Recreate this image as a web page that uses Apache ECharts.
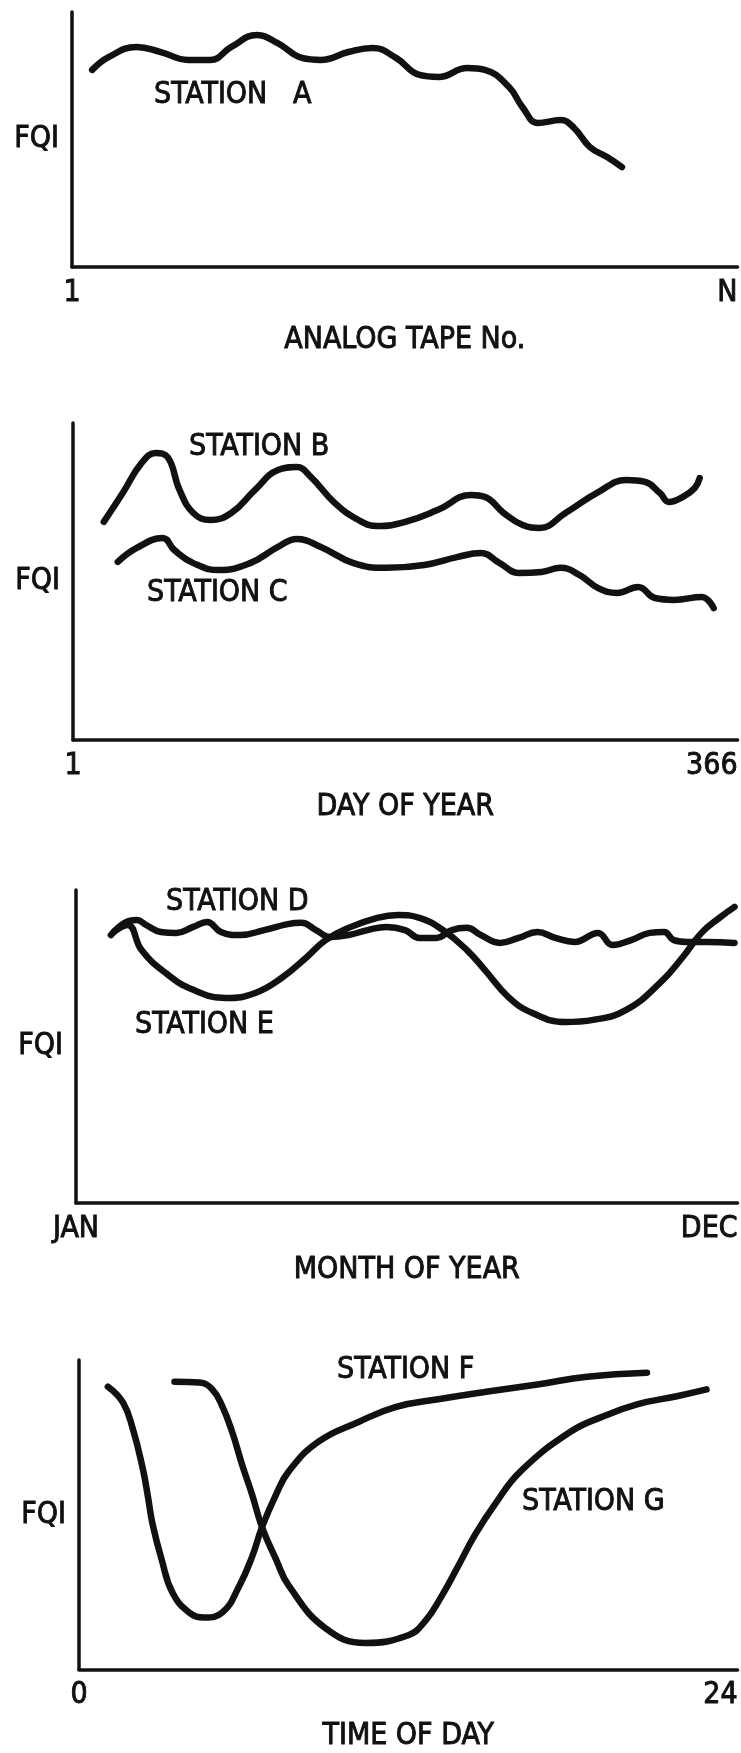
<!DOCTYPE html>
<html>
<head>
<meta charset="utf-8">
<script src="https://cdn.jsdelivr.net/npm/echarts@6/dist/echarts.min.js"></script>
<style>
  html, body { margin: 0; background: #fff; }
  #chart { width: 741px; height: 1753px; }
</style>
</head>
<body>
<div id="chart"></div>
<script>
// ---- data (FQI is unitless, 0..100 of the plot height)
// panel 1: tape number runs 1..N (N drawn at 100)
const tapeNo = [4.0, 6.5, 10.6, 14.2, 18.3, 21.6, 24.7, 28.5, 31.6, 35.2, 38.0, 42.1, 45.7, 49.2, 52.7, 55.5, 59.8, 62.4, 66.0, 68.0, 70.3, 73.7, 75.7, 78.0, 80.6, 82.8];
const stationA = [77.3, 82.4, 86.3, 84.3, 81.2, 81.2, 86.3, 91.0, 87.8, 82.0, 81.2, 84.3, 85.9, 82.0, 75.3, 74.5, 78.0, 77.3, 70.6, 62.7, 56.5, 57.6, 54.5, 47.1, 43.1, 39.2];

// panel 2: day of year 1..366
const dayB = [17.9, 28.3, 38.7, 46.4, 52.9, 59.5, 67.1, 76.4, 87.9, 101.0, 113.6, 123.9, 131.6, 144.7, 157.8, 168.2, 183.5, 201.5, 219.6, 227.2, 237.6, 248.0, 257.3, 271.5, 289.5, 304.8, 315.2, 323.4, 328.3, 336.0, 342.5, 345.2];
const stationB = [68.8, 77.9, 87.4, 90.5, 89.3, 78.9, 71.6, 69.4, 71.6, 78.9, 85.2, 86.1, 83.0, 74.8, 69.4, 67.5, 68.8, 72.6, 77.3, 76.7, 71.6, 67.8, 66.9, 71.6, 78.2, 82.0, 81.4, 77.9, 75.1, 76.7, 79.5, 82.6];
const dayC = [25.6, 36.0, 50.2, 56.7, 67.1, 81.3, 98.3, 113.6, 123.9, 137.1, 155.1, 173.1, 193.9, 211.9, 225.0, 235.4, 245.8, 258.4, 268.7, 279.1, 289.5, 299.9, 311.4, 320.6, 331.0, 346.3, 352.9];
const stationC = [56.2, 60.6, 63.7, 59.9, 55.8, 53.6, 55.8, 60.9, 63.4, 60.9, 55.8, 54.3, 55.2, 57.7, 59.0, 55.8, 52.7, 53.0, 54.3, 52.1, 47.9, 46.4, 48.3, 44.8, 44.2, 45.1, 41.6];

// panel 3: month 1 (JAN) .. 12 (DEC)
const monthD = [1.58, 1.81, 2.01, 2.17, 2.41, 2.67, 2.95, 3.18, 3.41, 3.73, 4.13, 4.52, 4.75, 4.99, 5.22, 5.53, 5.85, 6.16, 6.47, 6.71, 6.99, 7.25, 7.50, 7.73, 8.05, 8.36, 8.67, 8.97, 9.29, 9.68, 9.92, 10.23, 10.54, 10.78, 10.94, 11.17, 11.49, 11.95];
const stationD = [85.6, 89.5, 90.4, 88.8, 86.6, 86.3, 88.2, 89.8, 86.6, 85.6, 87.2, 89.1, 89.5, 87.2, 85.0, 85.6, 87.2, 88.2, 87.2, 84.7, 84.7, 87.2, 87.9, 85.6, 83.1, 84.7, 86.6, 84.7, 83.4, 86.3, 82.4, 84.0, 86.3, 86.6, 84.0, 83.4, 83.4, 83.1];
const monthE = [1.63, 1.86, 2.09, 2.49, 2.95, 3.50, 3.98, 4.44, 4.84, 5.15, 5.53, 6.01, 6.36, 6.71, 7.10, 7.50, 7.80, 8.19, 8.59, 9.14, 9.60, 10.15, 10.71, 11.09, 11.40, 11.72, 11.95];
const stationE = [86.6, 88.8, 80.8, 73.5, 68.1, 65.5, 67.1, 72.2, 78.6, 84.0, 87.9, 91.1, 92.0, 91.1, 87.2, 80.8, 74.4, 65.8, 60.7, 57.8, 58.5, 61.7, 70.3, 78.6, 86.3, 91.4, 94.6];

// panel 4: hour of day 0..24
const hourF = [1.05, 1.60, 1.96, 2.32, 2.50, 2.68, 3.01, 3.41, 4.02, 4.57, 5.22, 5.84, 6.31, 6.67, 7.18, 7.65, 8.74, 10.19, 11.53, 13.09, 14.90, 16.71, 18.52, 20.70];
const stationF = [91.4, 86.3, 77.8, 65.1, 56.5, 47.0, 35.6, 24.8, 18.4, 16.8, 18.4, 27.0, 36.5, 46.0, 56.5, 64.1, 73.7, 80.0, 84.8, 87.3, 89.8, 92.1, 94.6, 95.9];
const hourG = [3.48, 4.39, 4.86, 5.22, 5.58, 5.95, 6.31, 6.67, 7.18, 7.65, 8.99, 10.44, 12.00, 12.60, 13.20, 13.81, 14.43, 15.15, 16.10, 17.91, 19.14, 20.34, 21.79, 22.87];
const stationG = [93.0, 92.7, 90.5, 85.1, 76.8, 66.0, 56.5, 46.0, 35.6, 27.0, 13.3, 8.6, 11.1, 15.5, 23.5, 33.3, 43.5, 53.3, 64.1, 76.8, 81.9, 85.7, 88.3, 90.5];

// axis ends and their labels
const xRanges = [[1, 100], [1, 366], [1, 12], [0, 24]];
const xEndLabels = [["1", "N"], ["1", "366"], ["JAN", "DEC"], ["0", "24"]];
const xNames = ["ANALOG TAPE No.", "DAY OF YEAR", "MONTH OF YEAR", "TIME OF DAY"];
const stationNames = ["STATION   A", "STATION B", "STATION C", "STATION D", "STATION E", "STATION F", "STATION G"];

const FONT = '"Liberation Sans Narrow", "DejaVu Sans Condensed", "Arial Narrow", sans-serif';
const INK = "#111";

const zip = (xs, ys) => xs.map((x, i) => [x, ys[i]]);

const grids = [
  { left: 72, top: 12, right: 0, height: 255 },
  { left: 73, top: 423, right: 0, height: 317 },
  { left: 76, top: 890, right: 0, height: 313 },
  { left: 79, top: 1360, right: 0, height: 315 },
];
const nameGaps = [58, 52, 52, 52];

// lettering in the original is heavier than a regular face, so give it a hairline outline
const ink = { fontFamily: FONT, fontSize: 30, color: INK, textBorderColor: INK, textBorderWidth: 0.9 };

const xAxis = xRanges.map(([min, max], i) => ({
  type: "value",
  gridIndex: i,
  min: min,
  max: max,
  name: xNames[i],
  nameLocation: "middle",
  nameGap: nameGaps[i],
  nameTextStyle: ink,
  axisLine: { lineStyle: { color: INK, width: 3.5 } },
  axisTick: { show: false },
  splitLine: { show: false },
  axisLabel: Object.assign({
    customValues: [min, max],
    formatter: (v) => (v === min ? xEndLabels[i][0] : xEndLabels[i][1]),
    margin: 11,
    alignMaxLabel: "right",
  }, ink),
}));

const yAxis = grids.map((g, i) => ({
  type: "value",
  gridIndex: i,
  min: 0,
  max: 100,
  name: "FQI",
  nameLocation: "middle",
  nameRotate: 0,
  nameGap: 13,
  nameTextStyle: ink,
  axisLine: { show: true, lineStyle: { color: INK, width: 3.5 } },
  axisTick: { show: false },
  axisLabel: { show: false },
  splitLine: { show: false },
}));

const curve = (name, idx, data) => ({
  name: name,
  type: "line",
  xAxisIndex: idx,
  yAxisIndex: idx,
  data: data,
  smooth: 0.45,
  showSymbol: false,
  lineStyle: { color: INK, width: 6.5, cap: "round", join: "round" },
  silent: true,
});

const series = [
  curve("A", 0, zip(tapeNo, stationA)),
  curve("B", 1, zip(dayB, stationB)),
  curve("C", 1, zip(dayC, stationC)),
  curve("D", 2, zip(monthD, stationD)),
  curve("E", 2, zip(monthE, stationE)),
  curve("F", 3, zip(hourF, stationF)),
  curve("G", 3, zip(hourG, stationG)),
];

// station captions (pixel spots next to each curve)
const captionSpots = [[154, 95], [189, 447], [147, 593], [166, 902], [135, 1025], [337, 1370], [522, 1502]];
const graphic = stationNames.map((t, i) => ({
  type: "text",
  x: captionSpots[i][0],
  y: captionSpots[i][1],
  style: {
    text: t,
    fontFamily: FONT,
    fontSize: 30,
    fill: INK,
    stroke: INK,
    lineWidth: 0.9,
    verticalAlign: "middle",
  },
}));

const chart = echarts.init(document.getElementById("chart"), null, { renderer: "canvas" });
chart.setOption({
  animation: false,
  backgroundColor: "#fff",
  grid: grids,
  xAxis: xAxis,
  yAxis: yAxis,
  series: series,
  graphic: graphic,
});
</script>
</body>
</html>
